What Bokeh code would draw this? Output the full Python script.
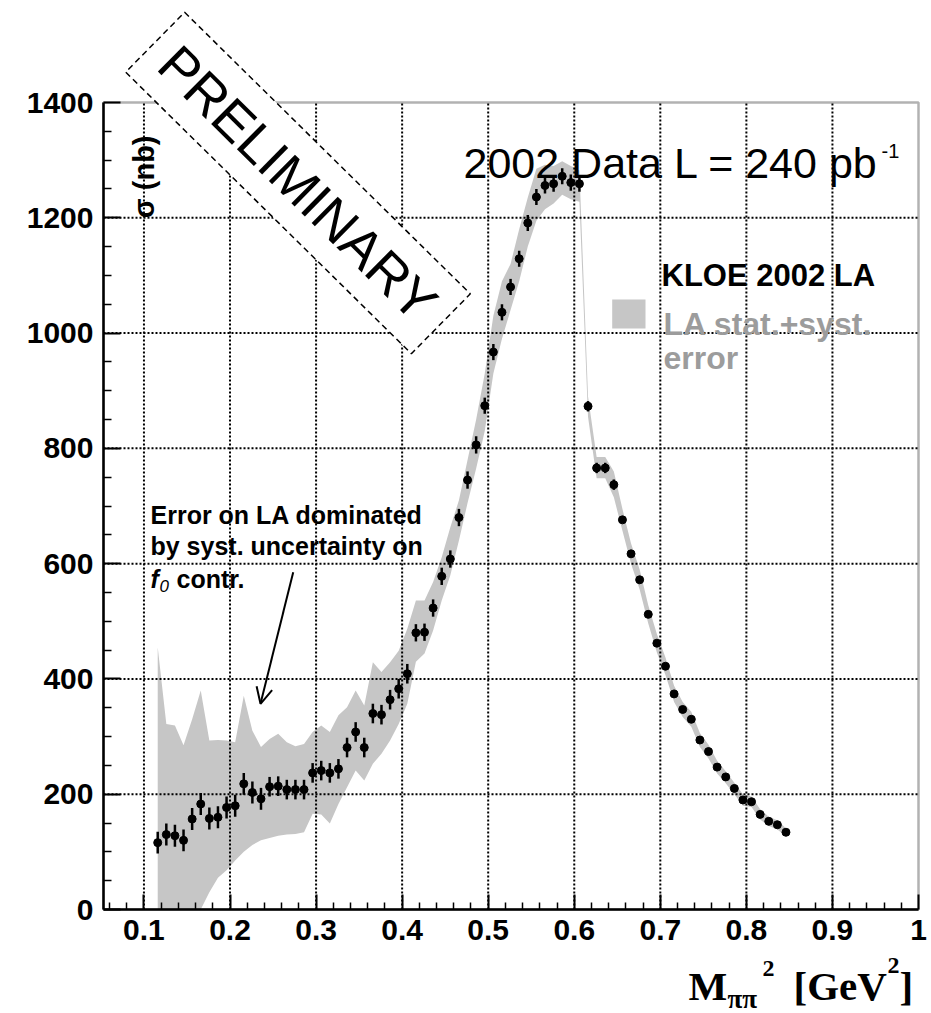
import math
from bokeh.plotting import figure
from bokeh.models import (Label, Arrow, OpenHead, FixedTicker, CustomJSTickFormatter,
                          BoxAnnotation, Range1d)
from bokeh.embed import file_html
from bokeh.resources import INLINE

# ---------------- data ----------------
x_gev2 = [0.116, 0.126, 0.136, 0.146, 0.156, 0.166, 0.176, 0.186, 0.196, 0.206,
          0.216, 0.226, 0.236, 0.246, 0.256, 0.266, 0.276, 0.286, 0.296, 0.306,
          0.316, 0.326, 0.336, 0.346, 0.356, 0.366, 0.376, 0.386, 0.396, 0.406,
          0.416, 0.426, 0.436, 0.446, 0.456, 0.466, 0.476, 0.486, 0.496, 0.506,
          0.516, 0.526, 0.536, 0.546, 0.556, 0.566, 0.576, 0.586, 0.596, 0.606,
          0.616, 0.626, 0.636, 0.646, 0.656, 0.666, 0.676, 0.686, 0.696, 0.706,
          0.716, 0.726, 0.736, 0.746, 0.756, 0.766, 0.776, 0.786, 0.796, 0.806,
          0.816, 0.826, 0.836, 0.846]

sigma_nb = [116, 130, 128, 120, 157, 183, 158, 160, 177, 180,
            218, 203, 192, 213, 214, 208, 208, 208, 237, 241,
            237, 244, 281, 308, 281, 340, 338, 364, 383, 409,
            480, 481, 523, 578, 608, 680, 745, 806, 874, 967,
            1036, 1080, 1129, 1191, 1236, 1256, 1259, 1272, 1261, 1259,
            873, 766, 766, 737, 676, 617, 572, 512, 462, 422,
            374, 347, 330, 294, 274, 247, 230, 210, 190, 187,
            165, 153, 147, 134]

stat_err = [19, 19, 19, 19, 19, 19, 19, 19, 19, 19,
            19, 19, 19, 17, 17, 17, 17, 17, 17, 17,
            17, 17, 17, 17, 17, 17, 17, 17, 17, 17,
            15, 15, 15, 15, 15, 15, 15, 15, 14, 14,
            14, 14, 14, 14, 14, 14, 14, 14, 14, 14,
            9, 9, 9, 9, 4, 4, 4, 4, 4, 4,
            4, 4, 4, 4, 4, 4, 4, 4, 4, 4,
            4, 4, 4, 4]

band_hi = [455, 322, 319, 285, 330, 380, 293, 294, 293, 290,
           371, 310, 282, 296, 305, 290, 283, 287, 308, 319,
           308, 337, 351, 380, 354, 429, 412, 429, 449, 487,
           536, 536, 568, 611, 663, 710, 780, 850, 930, 1030,
           1090, 1120, 1180, 1235, 1285, 1292, 1290, 1298, 1290, 1282,
           890, 785, 785, 760, 695, 635, 590, 528, 478, 437,
           388, 360, 343, 306, 286, 258, 240, 220, 200, 196,
           174, 161, 155, 141]

band_lo = [0, 0, 0, 0, 0, 0, 30, 55, 68, 85,
           100, 112, 120, 124, 128, 130, 131, 134, 166, 165,
           149, 183, 212, 241, 224, 253, 270, 293, 322, 357,
           430, 444, 484, 536, 580, 640, 705, 765, 830, 930,
           990, 1040, 1090, 1150, 1195, 1215, 1225, 1240, 1232, 1228,
           855, 748, 748, 715, 657, 600, 555, 496, 446, 407,
           360, 334, 317, 282, 262, 236, 219, 200, 180, 178,
           156, 145, 139, 127]

x_ticks = [0.1, 0.2, 0.3, 0.4, 0.5, 0.6, 0.7, 0.8, 0.9, 1.0]
y_ticks = [0, 200, 400, 600, 800, 1000, 1200, 1400]
X_MIN, X_MAX = 0.053, 1.0
Y_MIN, Y_MAX = 0, 1400

# ---------------- geometry of the plot box on the canvas ----------------
W, H = 931, 1013
BOX_L, BOX_R, BOX_T, BOX_B = 103, 918, 102, 909
SX = (BOX_R - BOX_L) / (X_MAX - X_MIN)
SY = (BOX_B - BOX_T) / (Y_MAX - Y_MIN)


def X(px):
    return X_MIN + (px - BOX_L) / SX


def Y(py):
    return Y_MIN + (BOX_B - py) / SY


BAND = "#c6c6c6"
SANS = "Liberation Sans"
SERIF = "Liberation Serif"

p = figure(width=W, height=H,
           x_range=Range1d(X(0), X(W)), y_range=Range1d(Y(H), Y(0)),
           output_backend="svg", toolbar_location=None, min_border=0)
p.background_fill_color = "white"
p.border_fill_color = "white"
p.outline_line_color = None
p.xgrid.visible = False
p.ygrid.visible = False

# band (stat + syst)
p.varea(x=x_gev2, y1=band_lo, y2=band_hi, fill_color=BAND)

# dotted grid on major ticks (drawn over the band, like ROOT)
gx = [t for t in x_ticks if X_MIN < t < X_MAX]
gy = [t for t in y_ticks if Y_MIN < t < Y_MAX]
p.segment(x0=gx, y0=[Y_MIN] * len(gx), x1=gx, y1=[Y_MAX] * len(gx),
          line_color="black", line_width=2, line_dash="2 2")
p.segment(x0=[X_MIN] * len(gy), y0=gy, x1=[X_MAX] * len(gy), y1=gy,
          line_color="black", line_width=2, line_dash="2 2")

# data points with stat errors
err_lo = [s - e for s, e in zip(sigma_nb, stat_err)]
err_hi = [s + e for s, e in zip(sigma_nb, stat_err)]
p.segment(x0=x_gev2, y0=err_lo, x1=x_gev2, y1=err_hi, line_color="black", line_width=2.5)
p.scatter(x=x_gev2, y=sigma_nb, size=8, marker="circle", color="black")

# axes, fixed at the edges of the plot box
x_minor = [round(0.06 + 0.02 * i, 2) for i in range(48)]
x_minor = [t for t in x_minor if t <= 1.0 and abs(t * 10 - round(t * 10)) > 1e-6]
y_minor = [50 * i for i in range(29) if (50 * i) % 200 != 0]

xa = p.xaxis[0]
ya = p.yaxis[0]
xa.fixed_location = Y_MIN
ya.fixed_location = X_MIN
xa.bounds = (X_MIN, X_MAX)
ya.bounds = (Y_MIN, Y_MAX)
xa.ticker = FixedTicker(ticks=x_ticks, minor_ticks=x_minor)
ya.ticker = FixedTicker(ticks=y_ticks, minor_ticks=y_minor)
xa.formatter = CustomJSTickFormatter(code="return (Math.abs(tick - 1) < 1e-9) ? '1' : tick.toFixed(1);")

for ax in (xa, ya):
    ax.major_tick_out = 0
    ax.minor_tick_out = 0
    ax.axis_line_width = 2.5
    ax.major_tick_line_width = 2
    ax.minor_tick_line_width = 1.5
    ax.major_label_text_font = SANS
    ax.major_label_text_font_style = "bold"
    ax.major_label_text_font_size = "30px"
    ax.major_label_text_color = "black"
    ax.major_label_standoff = 10
ya.major_tick_in = 17
ya.minor_tick_in = 8
xa.major_tick_in = 15
xa.minor_tick_in = 7

# frame box
p.add_layout(BoxAnnotation(left=X_MIN, right=X_MAX, bottom=Y_MIN, top=Y_MAX,
                           fill_alpha=0.0, line_color="black", line_width=2.5))


def add_label(px, py, text, size, font=SANS, style="normal", color="black",
              align="left", baseline="alphabetic", angle=0.0, **kw):
    lab = Label(x=X(px), y=Y(py), text=text, text_font=font, text_font_size=size,
                text_font_style=style, text_color=color, text_align=align,
                text_baseline=baseline, angle=angle, **kw)
    p.add_layout(lab)
    return lab


# y-axis title inside the frame
add_label(143.4, 135, "\u03c3 (nb)", "29px", style="bold", align="right",
          baseline="middle", angle=math.pi / 2)

# header text
add_label(463, 162, "2002 Data L = 240 pb", "43px")
add_label(881, 150, "-1", "20px")

# legend
add_label(661, 275, "KLOE 2002 LA", "31px", style="bold")
p.add_layout(BoxAnnotation(left=X(611.7), right=X(645), bottom=Y(328), top=Y(299),
                           fill_color=BAND, fill_alpha=1.0, line_alpha=0.0))
add_label(663, 323, "LA stat.+syst.", "32px", style="bold", color="#9c9c9c")
add_label(663, 357, "error", "32px", style="bold", color="#9c9c9c")

# annotation
add_label(150, 514, "Error on LA dominated", "25px", style="bold")
add_label(150, 545, "by syst. uncertainty on", "25px", style="bold")
add_label(150, 578, "f", "25px", style="bold italic")
add_label(159, 585, "0", "17px", style="italic")
add_label(176, 578, "contr.", "25px", style="bold")
p.add_layout(Arrow(end=OpenHead(size=16, line_width=2, line_color="black"),
                   x_start=X(292.7), y_start=Y(571.7), x_end=X(260), y_end=Y(703.3),
                   line_width=2, line_color="black"))

# PRELIMINARY stamp
add_label(297.5, 182.5, "PRELIMINARY", "54px", align="center", baseline="middle",
          angle=-0.778, border_line_color="black", border_line_width=1.5,
          border_line_dash="6 4", background_fill_color="white",
          padding=dict(x=18, y=12))

# x-axis title  M_{pi pi}^2 [GeV^2]
add_label(688, 985, "M", "41px", font=SERIF, style="bold")
add_label(727, 998, "\u03c0\u03c0", "27px", font=SERIF, style="bold")
add_label(762, 968, "2", "24px", font=SERIF, style="bold")
add_label(793, 985, "[GeV", "41px", font=SERIF, style="bold")
add_label(887, 965, "2", "24px", font=SERIF, style="bold")
add_label(899, 985, "]", "41px", font=SERIF, style="bold")

open("out.html", "w").write(file_html(p, INLINE))
